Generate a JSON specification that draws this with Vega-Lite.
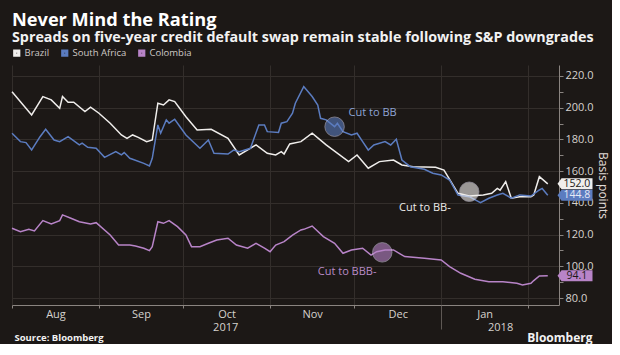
{
  "$schema": "https://vega.github.io/schema/vega-lite/v6.json",
  "width": 547,
  "height": 240,
  "autosize": {"type": "none"},
  "padding": {"left": 12, "top": 65, "right": 53, "bottom": 39},
  "background": "#1c1816",
  "config": {
    "view": {"stroke": null},
    "font": "Open Sans",
    "axis": {"labelFont": "Open Sans", "titleFont": "Open Sans"}
  },
  "title": {
    "text": "Never Mind the Rating",
    "subtitle": "Spreads on five-year credit default swap remain stable following S&P downgrades",
    "anchor": "start",
    "frame": "group",
    "font": "Open Sans",
    "fontSize": 18.2,
    "fontWeight": "bold",
    "color": "#ffffff",
    "subtitleFont": "Open Sans",
    "subtitleFontSize": 14.3,
    "subtitleFontWeight": "bold",
    "subtitleColor": "#f2f2f2",
    "subtitlePadding": 1,
    "offset": 2
  },
  "datasets": {
    "lines": [
      {"date": "2017-08-01", "series": "Brazil", "value": 210.1},
      {"date": "2017-08-08", "series": "Brazil", "value": 195.4},
      {"date": "2017-08-12", "series": "Brazil", "value": 207.0},
      {"date": "2017-08-15", "series": "Brazil", "value": 204.9},
      {"date": "2017-08-18", "series": "Brazil", "value": 199.6},
      {"date": "2017-08-19", "series": "Brazil", "value": 207.0},
      {"date": "2017-08-21", "series": "Brazil", "value": 203.4},
      {"date": "2017-08-23", "series": "Brazil", "value": 203.4},
      {"date": "2017-08-27", "series": "Brazil", "value": 197.5},
      {"date": "2017-08-29", "series": "Brazil", "value": 200.3},
      {"date": "2017-09-01", "series": "Brazil", "value": 196.5},
      {"date": "2017-09-05", "series": "Brazil", "value": 190.2},
      {"date": "2017-09-09", "series": "Brazil", "value": 182.8},
      {"date": "2017-09-11", "series": "Brazil", "value": 180.7},
      {"date": "2017-09-13", "series": "Brazil", "value": 182.8},
      {"date": "2017-09-15", "series": "Brazil", "value": 181.3},
      {"date": "2017-09-18", "series": "Brazil", "value": 178.6},
      {"date": "2017-09-20", "series": "Brazil", "value": 179.6},
      {"date": "2017-09-22", "series": "Brazil", "value": 202.8},
      {"date": "2017-09-24", "series": "Brazil", "value": 201.7},
      {"date": "2017-09-26", "series": "Brazil", "value": 204.9},
      {"date": "2017-09-28", "series": "Brazil", "value": 203.8},
      {"date": "2017-10-02", "series": "Brazil", "value": 194.3},
      {"date": "2017-10-06", "series": "Brazil", "value": 186.0},
      {"date": "2017-10-11", "series": "Brazil", "value": 186.4},
      {"date": "2017-10-17", "series": "Brazil", "value": 180.7},
      {"date": "2017-10-21", "series": "Brazil", "value": 170.2},
      {"date": "2017-10-27", "series": "Brazil", "value": 176.5},
      {"date": "2017-10-31", "series": "Brazil", "value": 171.2},
      {"date": "2017-11-03", "series": "Brazil", "value": 170.2},
      {"date": "2017-11-05", "series": "Brazil", "value": 172.3},
      {"date": "2017-11-06", "series": "Brazil", "value": 170.8},
      {"date": "2017-11-08", "series": "Brazil", "value": 177.1},
      {"date": "2017-11-12", "series": "Brazil", "value": 178.6},
      {"date": "2017-11-16", "series": "Brazil", "value": 183.9},
      {"date": "2017-11-21", "series": "Brazil", "value": 176.5},
      {"date": "2017-11-29", "series": "Brazil", "value": 166.0},
      {"date": "2017-12-02", "series": "Brazil", "value": 170.2},
      {"date": "2017-12-06", "series": "Brazil", "value": 161.8},
      {"date": "2017-12-10", "series": "Brazil", "value": 166.0},
      {"date": "2017-12-15", "series": "Brazil", "value": 167.0},
      {"date": "2017-12-18", "series": "Brazil", "value": 163.9},
      {"date": "2017-12-22", "series": "Brazil", "value": 162.8},
      {"date": "2017-12-30", "series": "Brazil", "value": 162.4},
      {"date": "2018-01-02", "series": "Brazil", "value": 160.7},
      {"date": "2018-01-07", "series": "Brazil", "value": 146.0},
      {"date": "2018-01-11", "series": "Brazil", "value": 144.3},
      {"date": "2018-01-16", "series": "Brazil", "value": 144.9},
      {"date": "2018-01-19", "series": "Brazil", "value": 146.0},
      {"date": "2018-01-21", "series": "Brazil", "value": 149.1},
      {"date": "2018-01-22", "series": "Brazil", "value": 148.0},
      {"date": "2018-01-24", "series": "Brazil", "value": 153.4},
      {"date": "2018-01-26", "series": "Brazil", "value": 142.9},
      {"date": "2018-01-29", "series": "Brazil", "value": 143.9},
      {"date": "2018-02-02", "series": "Brazil", "value": 143.9},
      {"date": "2018-02-03", "series": "Brazil", "value": 145.0},
      {"date": "2018-02-05", "series": "Brazil", "value": 156.5},
      {"date": "2018-02-08", "series": "Brazil", "value": 152.0},

      {"date": "2017-08-01", "series": "South Africa", "value": 183.9},
      {"date": "2017-08-04", "series": "South Africa", "value": 178.6},
      {"date": "2017-08-06", "series": "South Africa", "value": 178.0},
      {"date": "2017-08-08", "series": "South Africa", "value": 173.3},
      {"date": "2017-08-11", "series": "South Africa", "value": 181.7},
      {"date": "2017-08-13", "series": "South Africa", "value": 186.4},
      {"date": "2017-08-16", "series": "South Africa", "value": 179.6},
      {"date": "2017-08-18", "series": "South Africa", "value": 178.6},
      {"date": "2017-08-21", "series": "South Africa", "value": 181.7},
      {"date": "2017-08-25", "series": "South Africa", "value": 176.5},
      {"date": "2017-08-26", "series": "South Africa", "value": 177.6},
      {"date": "2017-08-28", "series": "South Africa", "value": 175.0},
      {"date": "2017-08-31", "series": "South Africa", "value": 174.4},
      {"date": "2017-09-03", "series": "South Africa", "value": 168.7},
      {"date": "2017-09-07", "series": "South Africa", "value": 172.3},
      {"date": "2017-09-09", "series": "South Africa", "value": 170.2},
      {"date": "2017-09-10", "series": "South Africa", "value": 171.7},
      {"date": "2017-09-12", "series": "South Africa", "value": 168.1},
      {"date": "2017-09-13", "series": "South Africa", "value": 167.5},
      {"date": "2017-09-17", "series": "South Africa", "value": 164.9},
      {"date": "2017-09-19", "series": "South Africa", "value": 163.3},
      {"date": "2017-09-20", "series": "South Africa", "value": 168.1},
      {"date": "2017-09-22", "series": "South Africa", "value": 189.1},
      {"date": "2017-09-23", "series": "South Africa", "value": 183.9},
      {"date": "2017-09-25", "series": "South Africa", "value": 192.3},
      {"date": "2017-09-26", "series": "South Africa", "value": 190.2},
      {"date": "2017-09-28", "series": "South Africa", "value": 192.7},
      {"date": "2017-10-02", "series": "South Africa", "value": 182.8},
      {"date": "2017-10-07", "series": "South Africa", "value": 174.4},
      {"date": "2017-10-10", "series": "South Africa", "value": 179.6},
      {"date": "2017-10-12", "series": "South Africa", "value": 171.2},
      {"date": "2017-10-17", "series": "South Africa", "value": 170.8},
      {"date": "2017-10-19", "series": "South Africa", "value": 173.3},
      {"date": "2017-10-21", "series": "South Africa", "value": 172.3},
      {"date": "2017-10-25", "series": "South Africa", "value": 174.4},
      {"date": "2017-10-28", "series": "South Africa", "value": 189.1},
      {"date": "2017-10-30", "series": "South Africa", "value": 189.1},
      {"date": "2017-10-31", "series": "South Africa", "value": 184.9},
      {"date": "2017-11-04", "series": "South Africa", "value": 184.3},
      {"date": "2017-11-05", "series": "South Africa", "value": 190.2},
      {"date": "2017-11-07", "series": "South Africa", "value": 191.2},
      {"date": "2017-11-09", "series": "South Africa", "value": 196.5},
      {"date": "2017-11-10", "series": "South Africa", "value": 202.8},
      {"date": "2017-11-13", "series": "South Africa", "value": 213.3},
      {"date": "2017-11-16", "series": "South Africa", "value": 207.0},
      {"date": "2017-11-18", "series": "South Africa", "value": 201.7},
      {"date": "2017-11-19", "series": "South Africa", "value": 193.3},
      {"date": "2017-11-21", "series": "South Africa", "value": 192.3},
      {"date": "2017-11-24", "series": "South Africa", "value": 188.0},
      {"date": "2017-11-25", "series": "South Africa", "value": 190.2},
      {"date": "2017-11-27", "series": "South Africa", "value": 184.9},
      {"date": "2017-11-30", "series": "South Africa", "value": 182.8},
      {"date": "2017-12-02", "series": "South Africa", "value": 183.9},
      {"date": "2017-12-04", "series": "South Africa", "value": 178.6},
      {"date": "2017-12-06", "series": "South Africa", "value": 173.3},
      {"date": "2017-12-08", "series": "South Africa", "value": 176.5},
      {"date": "2017-12-12", "series": "South Africa", "value": 178.6},
      {"date": "2017-12-14", "series": "South Africa", "value": 176.5},
      {"date": "2017-12-16", "series": "South Africa", "value": 180.1},
      {"date": "2017-12-18", "series": "South Africa", "value": 167.0},
      {"date": "2017-12-21", "series": "South Africa", "value": 162.8},
      {"date": "2017-12-26", "series": "South Africa", "value": 161.2},
      {"date": "2017-12-29", "series": "South Africa", "value": 158.7},
      {"date": "2018-01-01", "series": "South Africa", "value": 157.6},
      {"date": "2018-01-04", "series": "South Africa", "value": 154.4},
      {"date": "2018-01-07", "series": "South Africa", "value": 144.9},
      {"date": "2018-01-11", "series": "South Africa", "value": 143.9},
      {"date": "2018-01-15", "series": "South Africa", "value": 140.1},
      {"date": "2018-01-18", "series": "South Africa", "value": 142.9},
      {"date": "2018-01-21", "series": "South Africa", "value": 144.9},
      {"date": "2018-01-23", "series": "South Africa", "value": 146.0},
      {"date": "2018-01-26", "series": "South Africa", "value": 142.9},
      {"date": "2018-01-29", "series": "South Africa", "value": 145.0},
      {"date": "2018-02-02", "series": "South Africa", "value": 144.3},
      {"date": "2018-02-05", "series": "South Africa", "value": 148.1},
      {"date": "2018-02-06", "series": "South Africa", "value": 149.1},
      {"date": "2018-02-08", "series": "South Africa", "value": 144.8},

      {"date": "2017-08-01", "series": "Colombia", "value": 124.0},
      {"date": "2017-08-04", "series": "Colombia", "value": 121.8},
      {"date": "2017-08-07", "series": "Colombia", "value": 123.3},
      {"date": "2017-08-09", "series": "Colombia", "value": 122.3},
      {"date": "2017-08-12", "series": "Colombia", "value": 128.8},
      {"date": "2017-08-15", "series": "Colombia", "value": 126.7},
      {"date": "2017-08-18", "series": "Colombia", "value": 128.8},
      {"date": "2017-08-19", "series": "Colombia", "value": 132.4},
      {"date": "2017-08-22", "series": "Colombia", "value": 130.3},
      {"date": "2017-08-25", "series": "Colombia", "value": 128.1},
      {"date": "2017-08-29", "series": "Colombia", "value": 126.7},
      {"date": "2017-08-31", "series": "Colombia", "value": 127.5},
      {"date": "2017-09-05", "series": "Colombia", "value": 119.7},
      {"date": "2017-09-08", "series": "Colombia", "value": 113.4},
      {"date": "2017-09-12", "series": "Colombia", "value": 113.4},
      {"date": "2017-09-14", "series": "Colombia", "value": 112.8},
      {"date": "2017-09-17", "series": "Colombia", "value": 111.4},
      {"date": "2017-09-19", "series": "Colombia", "value": 109.9},
      {"date": "2017-09-20", "series": "Colombia", "value": 112.4},
      {"date": "2017-09-22", "series": "Colombia", "value": 128.1},
      {"date": "2017-09-24", "series": "Colombia", "value": 127.1},
      {"date": "2017-09-26", "series": "Colombia", "value": 128.8},
      {"date": "2017-09-29", "series": "Colombia", "value": 125.0},
      {"date": "2017-10-02", "series": "Colombia", "value": 119.7},
      {"date": "2017-10-04", "series": "Colombia", "value": 112.4},
      {"date": "2017-10-07", "series": "Colombia", "value": 112.4},
      {"date": "2017-10-10", "series": "Colombia", "value": 114.5},
      {"date": "2017-10-13", "series": "Colombia", "value": 116.6},
      {"date": "2017-10-17", "series": "Colombia", "value": 117.7},
      {"date": "2017-10-20", "series": "Colombia", "value": 113.4},
      {"date": "2017-10-24", "series": "Colombia", "value": 111.4},
      {"date": "2017-10-27", "series": "Colombia", "value": 114.5},
      {"date": "2017-10-30", "series": "Colombia", "value": 111.4},
      {"date": "2017-11-01", "series": "Colombia", "value": 109.2},
      {"date": "2017-11-03", "series": "Colombia", "value": 113.4},
      {"date": "2017-11-06", "series": "Colombia", "value": 115.5},
      {"date": "2017-11-09", "series": "Colombia", "value": 119.7},
      {"date": "2017-11-12", "series": "Colombia", "value": 122.9},
      {"date": "2017-11-13", "series": "Colombia", "value": 123.3},
      {"date": "2017-11-16", "series": "Colombia", "value": 125.4},
      {"date": "2017-11-20", "series": "Colombia", "value": 118.7},
      {"date": "2017-11-24", "series": "Colombia", "value": 114.5},
      {"date": "2017-11-27", "series": "Colombia", "value": 108.2},
      {"date": "2017-11-30", "series": "Colombia", "value": 110.3},
      {"date": "2017-12-04", "series": "Colombia", "value": 111.4},
      {"date": "2017-12-07", "series": "Colombia", "value": 107.1},
      {"date": "2017-12-09", "series": "Colombia", "value": 109.2},
      {"date": "2017-12-12", "series": "Colombia", "value": 110.3},
      {"date": "2017-12-15", "series": "Colombia", "value": 110.3},
      {"date": "2017-12-19", "series": "Colombia", "value": 106.1},
      {"date": "2017-12-26", "series": "Colombia", "value": 105.0},
      {"date": "2018-01-01", "series": "Colombia", "value": 104.0},
      {"date": "2018-01-04", "series": "Colombia", "value": 99.8},
      {"date": "2018-01-08", "series": "Colombia", "value": 95.6},
      {"date": "2018-01-13", "series": "Colombia", "value": 91.8},
      {"date": "2018-01-18", "series": "Colombia", "value": 90.3},
      {"date": "2018-01-23", "series": "Colombia", "value": 90.3},
      {"date": "2018-01-28", "series": "Colombia", "value": 89.3},
      {"date": "2018-01-30", "series": "Colombia", "value": 88.2},
      {"date": "2018-02-02", "series": "Colombia", "value": 89.3},
      {"date": "2018-02-03", "series": "Colombia", "value": 91.0},
      {"date": "2018-02-05", "series": "Colombia", "value": 93.9},
      {"date": "2018-02-08", "series": "Colombia", "value": 94.1}
    ],
    "circles": [
      {"date": "2017-11-24", "series": "South Africa", "value": 188.0},
      {"date": "2018-01-11", "series": "Brazil", "value": 147.0},
      {"date": "2017-12-11", "series": "Colombia", "value": 108.8}
    ],
    "notes": [
      {"date": "2017-11-29", "series": "South Africa", "value": 196.5, "label": "Cut to BB"},
      {"date": "2017-12-17", "series": "Brazil", "value": 136.8, "label": "Cut to BB-"},
      {"date": "2017-11-18", "series": "Colombia", "value": 96.6, "label": "Cut to BBB-"}
    ],
    "last": [
      {"date": "2018-02-08", "series": "Brazil", "value": 152.0},
      {"date": "2018-02-08", "series": "South Africa", "value": 144.8},
      {"date": "2018-02-08", "series": "Colombia", "value": 94.1}
    ]
  },
  "resolve": {"axis": {"x": "independent", "y": "independent"}, "legend": {"color": "independent"}},
  "layer": [
    {
      "data": {"name": "lines"},
      "mark": {"type": "line", "strokeWidth": 1.5},
      "encoding": {
        "x": {
          "field": "date", "type": "temporal",
          "scale": {"type": "utc", "domain": [{"year": 2017, "month": 8, "date": 1, "utc": true}, {"year": 2018, "month": 2, "date": 12, "utc": true}]},
          "axis": {
            "orient": "bottom", "title": null, "labels": false,
            "values": [
              {"year": 2017, "month": 8, "date": 1, "utc": true},
              {"year": 2017, "month": 9, "date": 1, "utc": true},
              {"year": 2017, "month": 10, "date": 1, "utc": true},
              {"year": 2017, "month": 11, "date": 1, "utc": true},
              {"year": 2017, "month": 12, "date": 1, "utc": true},
              {"year": 2018, "month": 1, "date": 1, "utc": true},
              {"year": 2018, "month": 2, "date": 1, "utc": true}
            ],
            "tickSize": 3, "tickColor": "#8a8480", "domainColor": "#8a8480",
            "grid": true, "gridColor": "#332e2b", "gridWidth": 1
          }
        },
        "y": {
          "field": "value", "type": "quantitative",
          "scale": {"domain": [75.6, 226.9], "nice": false, "zero": false},
          "axis": {
            "orient": "right", "title": "Basis points",
            "values": [80, 90, 100, 110, 120, 130, 140, 150, 160, 170, 180, 190, 200, 210, 220],
            "labelExpr": "datum.value % 20 === 0 ? format(datum.value, '.1f') : ''",
            "labelColor": "#d6d2ce", "labelFontSize": 11, "labelPadding": 2,
            "tickSize": 4, "tickColor": "#8a8480", "domainColor": "#8a8480",
            "grid": true, "gridColor": "#332e2b",
            "gridOpacity": {"condition": {"test": "datum.value % 20 === 0", "value": 1}, "value": 0},
            "titleColor": "#e0dcd8", "titleFontSize": 12, "titleFontWeight": "normal", "titlePadding": 2,
            "labelOverlap": false
          }
        },
        "color": {
          "field": "series", "type": "nominal",
          "scale": {"domain": ["Brazil", "South Africa", "Colombia"], "range": ["#f0eeec", "#5b7cc0", "#b884c8"]},
          "legend": {
            "orient": "top", "direction": "horizontal", "title": null,
            "symbolType": "square", "symbolSize": 16, "symbolStrokeWidth": 3.2,
            "labelFontSize": 9.5, "labelColor": "#cfcac6", "labelFont": "Open Sans",
            "labelOffset": 3, "columnPadding": 6, "padding": 0, "offset": 3
          }
        }
      }
    },
    {
      "data": {"name": "circles"},
      "mark": {"type": "point", "filled": true, "size": 380, "opacity": 0.6, "stroke": "#d8d4e8", "strokeWidth": 0.8},
      "encoding": {
        "x": {
          "field": "date", "type": "temporal",
          "scale": {"type": "utc", "domain": [{"year": 2017, "month": 8, "date": 1, "utc": true}, {"year": 2018, "month": 2, "date": 12, "utc": true}]},
          "axis": {
            "orient": "bottom", "title": null, "format": "%b",
            "values": [
              {"year": 2017, "month": 8, "date": 16, "hours": 12, "utc": true},
              {"year": 2017, "month": 9, "date": 16, "utc": true},
              {"year": 2017, "month": 10, "date": 16, "hours": 12, "utc": true},
              {"year": 2017, "month": 11, "date": 16, "utc": true},
              {"year": 2017, "month": 12, "date": 16, "hours": 12, "utc": true},
              {"year": 2018, "month": 1, "date": 16, "hours": 12, "utc": true}
            ],
            "tickSize": 0, "domain": false, "grid": false,
            "labelPadding": 3, "labelColor": "#d6d2ce", "labelFontSize": 11,
            "labelFlush": false, "labelOverlap": false
          }
        },
        "y": {"field": "value", "type": "quantitative", "scale": {"domain": [75.6, 226.9], "nice": false, "zero": false}, "axis": null},
        "color": {"field": "series", "type": "nominal", "scale": {"domain": ["Brazil", "South Africa", "Colombia"], "range": ["#f0eeec", "#5b7cc0", "#b884c8"]}, "legend": null}
      }
    },
    {
      "data": {"name": "notes"},
      "mark": {"type": "text", "align": "left", "baseline": "middle", "fontSize": 11, "font": "Open Sans"},
      "encoding": {
        "x": {
          "field": "date", "type": "temporal",
          "scale": {"type": "utc", "domain": [{"year": 2017, "month": 8, "date": 1, "utc": true}, {"year": 2018, "month": 2, "date": 12, "utc": true}]},
          "axis": {
            "orient": "bottom", "title": null, "format": "%Y",
            "values": [
              {"year": 2017, "month": 10, "date": 16, "utc": true},
              {"year": 2018, "month": 1, "date": 22, "utc": true}
            ],
            "tickSize": 0, "domain": false, "grid": false,
            "labelPadding": 16, "labelColor": "#d6d2ce", "labelFontSize": 11,
            "labelFlush": false, "labelOverlap": false
          }
        },
        "y": {"field": "value", "type": "quantitative", "scale": {"domain": [75.6, 226.9], "nice": false, "zero": false}, "axis": null},
        "text": {"field": "label"},
        "color": {
          "condition": [
            {"test": "datum.series === 'South Africa'", "value": "#8ea4d4"},
            {"test": "datum.series === 'Colombia'", "value": "#b98bc6"}
          ],
          "value": "#ecebea"
        }
      }
    },
    {
      "data": {"name": "last"},
      "mark": {"type": "point", "filled": true, "opacity": 1, "size": 2500, "shape": "M0.39,0 L0.55,-0.22 L1.79,-0.22 L1.79,0.22 L0.55,0.22 Z"},
      "encoding": {
        "x": {
          "field": "date", "type": "temporal",
          "scale": {"type": "utc", "domain": [{"year": 2017, "month": 8, "date": 1, "utc": true}, {"year": 2018, "month": 2, "date": 12, "utc": true}]},
          "axis": {
            "orient": "bottom", "title": null, "labels": false,
            "values": [{"year": 2018, "month": 1, "date": 1, "utc": true}],
            "tickSize": 24, "tickColor": "#5e5854", "domain": false, "grid": false
          }
        },
        "y": {"field": "value", "type": "quantitative", "scale": {"domain": [75.6, 226.9], "nice": false, "zero": false}, "axis": null},
        "color": {"field": "series", "type": "nominal", "scale": {"domain": ["Brazil", "South Africa", "Colombia"], "range": ["#f0eeec", "#5b7cc0", "#b884c8"]}, "legend": null}
      }
    },
    {
      "data": {"name": "last"},
      "mark": {"type": "text", "align": "center", "baseline": "middle", "dx": 29, "fontSize": 10.5, "font": "Open Sans"},
      "encoding": {
        "x": {
          "field": "date", "type": "temporal",
          "scale": {"type": "utc", "domain": [{"year": 2017, "month": 8, "date": 1, "utc": true}, {"year": 2018, "month": 2, "date": 12, "utc": true}]},
          "axis": {
            "orient": "bottom", "title": null,
            "values": [
              {"year": 2017, "month": 8, "date": 1, "utc": true},
              {"year": 2018, "month": 2, "date": 12, "utc": true}
            ],
            "labelExpr": "datum.value < 1510000000000 ? 'Source: Bloomberg' : 'Bloomberg'",
            "labelAlign": {"condition": {"test": "datum.value < 1510000000000", "value": "left"}, "value": "right"},
            "labelFontSize": {"condition": {"test": "datum.value < 1510000000000", "value": 9.5}, "value": 12},
            "labelOffset": {"condition": {"test": "datum.value < 1510000000000", "value": 2}, "value": 33},
            "labelBaseline": "middle",
            "labelFontWeight": "bold", "labelColor": "#f2f2f2",
            "tickSize": 0, "domain": false, "grid": false,
            "labelPadding": 32, "labelFlush": false, "labelOverlap": false
          }
        },
        "y": {"field": "value", "type": "quantitative", "scale": {"domain": [75.6, 226.9], "nice": false, "zero": false}, "axis": null},
        "text": {"field": "value", "type": "quantitative", "format": ".1f"},
        "color": {
          "condition": {"test": "datum.series === 'South Africa'", "value": "#e4e9f5"},
          "value": "#1c1816"
        }
      }
    }
  ]
}
